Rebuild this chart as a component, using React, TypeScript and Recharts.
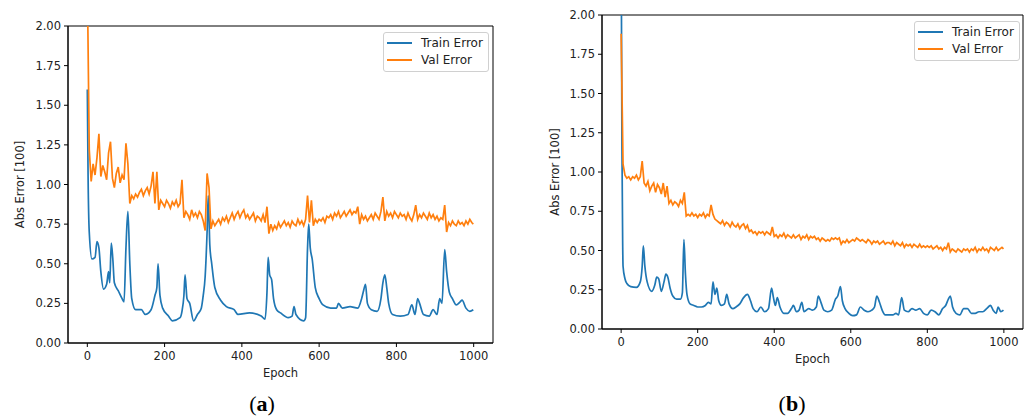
import React from "react";
import { LineChart, Line, XAxis, YAxis, Legend, ReferenceArea } from "recharts";

type Pt = [number, number];

const FONT = "'DejaVu Sans', sans-serif";
const TRAIN_COLOR = "#1f77b4";
const VAL_COLOR = "#ff7f0e";

const xTicks = [0, 200, 400, 600, 800, 1000];
const yTicks = [0, 0.25, 0.5, 0.75, 1, 1.25, 1.5, 1.75, 2];
const seriesNames = ["Train Error", "Val Error"];
const VAL_STEP = 5;

// (a) train error, read at the turning points
const trainA: Pt[] = [
  [0, 1.6], [2, 1.05], [5, 0.7], [12, 0.53], [20, 0.54], [25, 0.64], [30, 0.6], [35, 0.45],
  [42, 0.34], [50, 0.37], [55, 0.45], [58, 0.38], [62, 0.63], [66, 0.53], [70, 0.38], [80, 0.33],
  [90, 0.28], [95, 0.26], [100, 0.6], [105, 0.83], [110, 0.5], [115, 0.28], [125, 0.21], [140, 0.21],
  [150, 0.18], [165, 0.21], [175, 0.3], [180, 0.35], [183, 0.5], [188, 0.3], [195, 0.22], [210, 0.17],
  [220, 0.14], [240, 0.16], [245, 0.2], [250, 0.3], [253, 0.43], [258, 0.28], [265, 0.25], [275, 0.14],
  [285, 0.18], [295, 0.22], [300, 0.3], [305, 0.42], [310, 0.7], [313, 0.93], [317, 0.62], [322, 0.5],
  [330, 0.35], [345, 0.27], [360, 0.23], [380, 0.21], [390, 0.18], [420, 0.19], [450, 0.17], [460, 0.15],
  [465, 0.32], [468, 0.54], [472, 0.43], [477, 0.4], [482, 0.28], [490, 0.21], [500, 0.19], [520, 0.16],
  [530, 0.17], [535, 0.23], [540, 0.18], [560, 0.14], [565, 0.16], [570, 0.6], [573, 0.75], [577, 0.6],
  [582, 0.53], [590, 0.35], [600, 0.28], [610, 0.24], [630, 0.22], [645, 0.22], [650, 0.25], [660, 0.22],
  [680, 0.23], [700, 0.22], [710, 0.28], [715, 0.33], [720, 0.37], [725, 0.25], [735, 0.21], [750, 0.2],
  [760, 0.28], [765, 0.38], [770, 0.43], [775, 0.35], [780, 0.25], [790, 0.18], [810, 0.17], [830, 0.18],
  [840, 0.24], [848, 0.18], [855, 0.28], [860, 0.25], [870, 0.18], [885, 0.17], [895, 0.21], [905, 0.18],
  [912, 0.28], [918, 0.25], [925, 0.59], [930, 0.45], [937, 0.32], [945, 0.28], [955, 0.24], [965, 0.26],
  [970, 0.27], [980, 0.22], [990, 0.2], [999, 0.21],
];

// (a) val error, one reading every 5 epochs (0..1000)
const valA = [
  2.3, 1.22, 1.02, 1.13, 1.06, 1.17, 1.32, 1.05, 1.12, 1.08, 1.03, 1.2, 1.27, 1.04, 0.98, 1.07, 1.11, 1.01, 1.06, 1.03,
  1.26, 1.13, 0.88, 0.93, 0.91, 0.94, 0.92, 0.95, 0.97, 0.93, 0.96, 0.98, 0.94, 0.99, 1.08, 0.88, 1.08, 0.84, 0.9, 0.88,
  0.86, 0.9, 0.88, 0.85, 0.89, 0.87, 0.9, 0.86, 0.88, 1.03, 0.79, 0.83, 0.81, 0.78, 0.84, 0.8, 0.82, 0.79, 0.83, 0.81,
  0.77, 0.71, 1.07, 0.98, 0.72, 0.77, 0.74, 0.76, 0.78, 0.75, 0.79, 0.77, 0.8, 0.76, 0.79, 0.82, 0.78, 0.81, 0.83, 0.79,
  0.82, 0.84, 0.79, 0.81, 0.78, 0.8, 0.82, 0.77, 0.8, 0.79, 0.77, 0.81, 0.76, 0.86, 0.69, 0.75, 0.71, 0.74, 0.72, 0.76,
  0.73, 0.75, 0.77, 0.74, 0.76, 0.73, 0.77, 0.75, 0.74, 0.78, 0.75, 0.77, 0.74, 0.78, 0.93, 0.76, 0.9, 0.74, 0.78, 0.76,
  0.78, 0.77, 0.79, 0.76, 0.8, 0.79, 0.81, 0.78, 0.82, 0.8, 0.83, 0.79, 0.81, 0.83, 0.8, 0.82, 0.84, 0.81, 0.83, 0.82,
  0.86, 0.75, 0.81, 0.78, 0.8, 0.77, 0.79, 0.81, 0.78, 0.82, 0.8, 0.78, 0.83, 0.92, 0.77, 0.83, 0.8, 0.82, 0.79, 0.83,
  0.81, 0.79, 0.82, 0.8, 0.81, 0.78, 0.82, 0.79, 0.77, 0.81, 0.87, 0.78, 0.81, 0.79, 0.82, 0.8, 0.78, 0.82, 0.79, 0.81,
  0.78, 0.8, 0.77, 0.79, 0.78, 0.87, 0.7, 0.76, 0.74, 0.77, 0.75, 0.74, 0.77, 0.75, 0.76, 0.74, 0.77, 0.75, 0.78, 0.76,
  0.75,
];

// (b) train error
const trainB: Pt[] = [
  [0, 2.6], [2, 1.2], [4, 0.55], [5, 0.4], [10, 0.32], [15, 0.29], [25, 0.27], [40, 0.265],
  [50, 0.3], [55, 0.4], [58, 0.53], [62, 0.4], [68, 0.3], [80, 0.24], [88, 0.28], [93, 0.33],
  [98, 0.32], [105, 0.24], [112, 0.3], [117, 0.35], [122, 0.33], [128, 0.26], [135, 0.21], [145, 0.19],
  [155, 0.19], [160, 0.23], [164, 0.57], [168, 0.35], [172, 0.22], [180, 0.16], [190, 0.15], [200, 0.14],
  [210, 0.14], [220, 0.15], [228, 0.17], [235, 0.16], [240, 0.3], [245, 0.22], [250, 0.26], [255, 0.18],
  [262, 0.15], [270, 0.16], [276, 0.22], [282, 0.16], [292, 0.13], [300, 0.14], [310, 0.16], [320, 0.2],
  [330, 0.22], [338, 0.18], [345, 0.13], [355, 0.11], [365, 0.14], [375, 0.11], [385, 0.13], [393, 0.26],
  [398, 0.2], [403, 0.15], [408, 0.2], [415, 0.14], [425, 0.1], [435, 0.1], [445, 0.13], [450, 0.15],
  [458, 0.11], [465, 0.12], [472, 0.17], [478, 0.11], [490, 0.13], [500, 0.12], [510, 0.14], [515, 0.21],
  [522, 0.17], [530, 0.12], [540, 0.11], [550, 0.12], [560, 0.19], [566, 0.21], [573, 0.27], [578, 0.18],
  [585, 0.13], [595, 0.1], [605, 0.085], [615, 0.09], [625, 0.14], [635, 0.12], [645, 0.11], [655, 0.12],
  [662, 0.14], [668, 0.21], [675, 0.17], [682, 0.12], [690, 0.09], [700, 0.09], [710, 0.09], [718, 0.1],
  [725, 0.09], [733, 0.2], [740, 0.12], [750, 0.11], [760, 0.13], [770, 0.12], [780, 0.13], [790, 0.1],
  [800, 0.09], [810, 0.12], [820, 0.11], [830, 0.09], [840, 0.13], [848, 0.15], [855, 0.19], [860, 0.21],
  [866, 0.14], [875, 0.1], [885, 0.09], [895, 0.13], [905, 0.13], [915, 0.1], [925, 0.1], [935, 0.11],
  [945, 0.11], [955, 0.13], [965, 0.15], [972, 0.12], [980, 0.1], [985, 0.14], [992, 0.11], [999, 0.12],
];

// (b) val error, one reading every 5 epochs (0..1000)
const valB = [
  1.88, 1.05, 0.98, 0.96, 0.97, 0.95, 0.97, 0.96, 0.98, 0.95, 0.97, 1.07, 0.93, 0.91, 0.94, 0.88, 0.91, 0.93, 0.87, 0.92,
  0.9, 0.86, 0.93, 0.84, 0.91, 0.8, 0.82, 0.79, 0.81, 0.8, 0.78, 0.82, 0.8, 0.87, 0.72, 0.73, 0.72, 0.74, 0.72, 0.73,
  0.71, 0.73, 0.72, 0.74, 0.71, 0.73, 0.72, 0.79, 0.73, 0.7, 0.69, 0.68, 0.67, 0.69, 0.66, 0.68, 0.67, 0.65, 0.68, 0.66,
  0.65, 0.67, 0.64, 0.66, 0.67, 0.64, 0.66, 0.62, 0.63, 0.61, 0.62, 0.6, 0.62, 0.61, 0.62, 0.6, 0.62, 0.61, 0.6, 0.65,
  0.59, 0.6, 0.58, 0.6, 0.59, 0.61, 0.58, 0.6, 0.59, 0.58, 0.6, 0.58, 0.59, 0.6, 0.57, 0.59, 0.58, 0.6, 0.57, 0.59,
  0.58, 0.59, 0.57, 0.58, 0.56, 0.58, 0.57, 0.56, 0.57, 0.56, 0.58, 0.57, 0.58, 0.57, 0.58, 0.54, 0.56, 0.55, 0.57, 0.55,
  0.56, 0.57, 0.56, 0.58, 0.57, 0.56, 0.57, 0.56, 0.55, 0.57, 0.56, 0.54, 0.56, 0.55, 0.56, 0.54, 0.55, 0.56, 0.54, 0.55,
  0.55, 0.54, 0.56, 0.53, 0.55, 0.54, 0.53, 0.55, 0.52, 0.54, 0.53, 0.54, 0.52, 0.54, 0.53, 0.52, 0.54, 0.52, 0.53, 0.52,
  0.53, 0.52, 0.53, 0.51, 0.52, 0.53, 0.51, 0.52, 0.5, 0.52, 0.51, 0.55, 0.49, 0.51, 0.5, 0.49, 0.51, 0.5, 0.49, 0.51,
  0.5, 0.51, 0.49, 0.51, 0.5, 0.52, 0.49, 0.51, 0.5, 0.52, 0.5, 0.51, 0.49, 0.52, 0.51, 0.5, 0.52, 0.5, 0.51, 0.52,
  0.51,
];

const toRows = (pts: Pt[]) => pts.map(([epoch, v]) => ({ epoch, v }));
const stepRows = (vals: number[]) =>
  vals.map((v, i) => ({ epoch: Math.min(i * VAL_STEP, 999), v }));

interface PanelProps {
  left: number;
  width: number;
  height: number;
  margin: { top: number; right: number; bottom: number; left: number };
  yLabelOffset: number;
  legendAt: { top: number; left: number };
  train: Pt[];
  val: number[];
}

function ErrorLegend() {
  const colors = [TRAIN_COLOR, VAL_COLOR];
  return (
    <div
      style={{
        border: "1px solid #d0d0d0",
        borderRadius: 3,
        background: "rgba(255,255,255,0.8)",
        padding: "1px 5px 2px 3px",
        fontFamily: FONT,
        fontSize: 12,
        color: "#222",
        whiteSpace: "nowrap",
      }}
    >
      {seriesNames.map((name, i) => (
        <div key={name} style={{ display: "flex", alignItems: "center", height: 17.6 }}>
          <span style={{ width: 25, height: 0, borderTop: `2px solid ${colors[i]}`, marginRight: 9 }} />
          {name}
        </div>
      ))}
    </div>
  );
}

function Panel({ left, width, height, margin, yLabelOffset, legendAt, train, val }: PanelProps) {
  const axisText = { fill: "#222", fontSize: 11.5, fontFamily: FONT };
  return (
    <div style={{ position: "absolute", left, top: 0 }}>
      <LineChart width={width} height={height} margin={margin}>
        <XAxis
          dataKey="epoch"
          type="number"
          domain={[-50, 1050]}
          allowDataOverflow
          ticks={xTicks}
          height={40}
          tickSize={4}
          tickMargin={5}
          stroke="#000"
          tick={axisText}
          label={{ value: "Epoch", position: "insideBottom", offset: 6, style: axisText }}
        />
        <YAxis
          type="number"
          domain={[0, 2]}
          allowDataOverflow
          ticks={yTicks}
          tickFormatter={(v: number) => v.toFixed(2)}
          width={50}
          tickSize={4}
          tickMargin={3}
          stroke="#000"
          tick={axisText}
          label={{
            value: "Abs Error [100]",
            angle: -90,
            position: "insideLeft",
            offset: yLabelOffset,
            style: { ...axisText, textAnchor: "middle" },
          }}
        />
        <Line
          data={toRows(train)}
          dataKey="v"
          name={seriesNames[0]}
          type="monotone"
          stroke={TRAIN_COLOR}
          strokeWidth={1.7}
          dot={false}
          isAnimationActive={false}
        />
        <Line
          data={stepRows(val)}
          dataKey="v"
          name={seriesNames[1]}
          type="linear"
          stroke={VAL_COLOR}
          strokeWidth={1.7}
          dot={false}
          isAnimationActive={false}
        />
        {/* full axes box like matplotlib spines */}
        <ReferenceArea
          x1={-50}
          x2={1050}
          y1={0}
          y2={2}
          fill="none"
          stroke="#000"
          strokeWidth={1}
          ifOverflow="visible"
        />
        <Legend
          layout="vertical"
          align="center"
          verticalAlign="middle"
          content={() => <ErrorLegend />}
          wrapperStyle={{ position: "absolute", top: legendAt.top, left: legendAt.left, width: "auto", height: "auto" }}
        />
      </LineChart>
    </div>
  );
}

function Caption({ x, letter }: { x: number; letter: string }) {
  return (
    <div
      style={{
        position: "absolute",
        left: x - 40,
        top: 391,
        width: 80,
        textAlign: "center",
        fontFamily: "'Liberation Serif', serif",
        fontSize: 22,
        lineHeight: "26px",
        color: "#000",
      }}
    >
      (<b>{letter}</b>)
    </div>
  );
}

export default function App() {
  return (
    <div style={{ position: "absolute", left: 0, top: 0, width: 1032, height: 419, background: "#fff", overflow: "hidden" }}>
      <Panel
        left={0}
        width={500}
        height={400}
        margin={{ top: 26, right: 7, bottom: 17, left: 18 }}
        yLabelOffset={2}
        legendAt={{ top: 32, left: 383 }}
        train={trainA}
        val={valA}
      />
      <Panel
        left={520}
        width={512}
        height={390}
        margin={{ top: 15, right: 9, bottom: 21, left: 32 }}
        yLabelOffset={3}
        legendAt={{ top: 21, left: 394 }}
        train={trainB}
        val={valB}
      />
      <Caption x={262} letter="a" />
      <Caption x={792} letter="b" />
    </div>
  );
}
